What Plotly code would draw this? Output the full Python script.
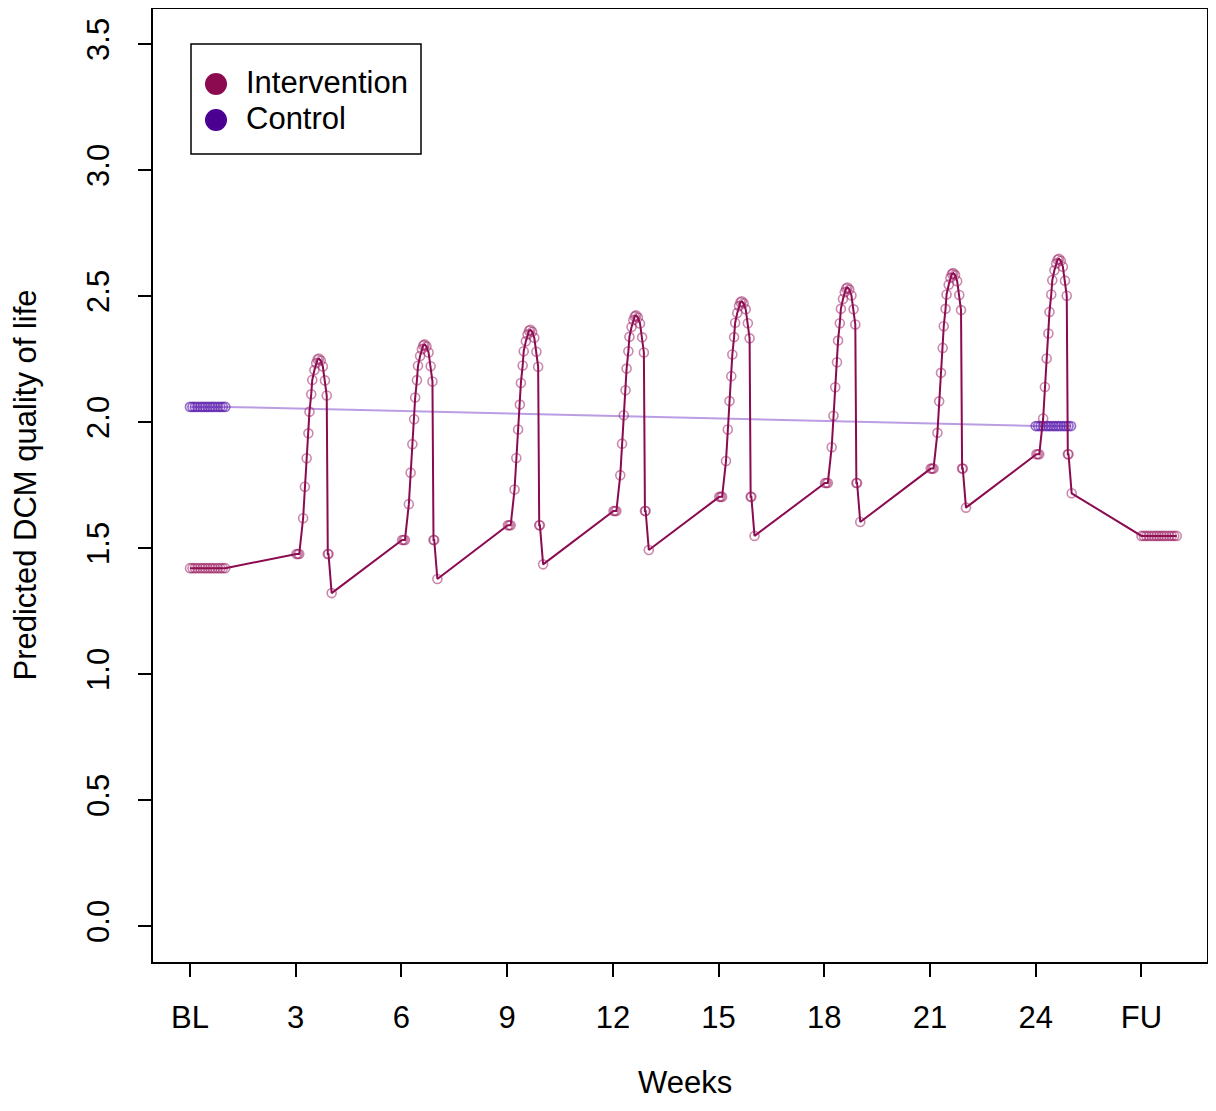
import plotly.graph_objects as go

# ---------------- data ----------------
tick_vals = [0, 3, 6, 9, 12, 15, 18, 21, 24, 27]
tick_text = ["BL", "3", "6", "9", "12", "15", "18", "21", "24", "FU"]

# baseline / end-of-treatment / follow-up week positions (dense points)
bl_x = [0.0, 0.07, 0.14, 0.21, 0.29, 0.36, 0.43, 0.5, 0.57, 0.64, 0.71, 0.79, 0.86, 0.93, 1.0]
end_x = [24.0, 24.07, 24.14, 24.21, 24.29, 24.36, 24.43, 24.5, 24.57, 24.64, 24.71, 24.79, 24.86, 24.93, 25.0]
fu_x = [27.0, 27.07, 27.14, 27.21, 27.29, 27.36, 27.43, 27.5, 27.57, 27.64, 27.71, 27.79, 27.86, 27.93, 28.0]

intervention_bl = 1.42
intervention_fu = 1.548
control_bl = 2.06
control_end = 1.984

# session weeks and within-session time offsets (weeks)
session_weeks = [3, 6, 9, 12, 15, 18, 21, 24]
session_offsets = [0.02, 0.06, 0.10, 0.21, 0.26, 0.31, 0.36, 0.39, 0.44, 0.47, 0.53,
                   0.58, 0.62, 0.66, 0.71, 0.77, 0.83, 0.88, 0.91, 0.93, 1.02]

cycle1 = [1.476, 1.476, 1.476, 1.618, 1.743, 1.856, 1.955, 2.041, 2.110, 2.167, 2.206,
          2.233, 2.248, 2.252, 2.244, 2.220, 2.165, 2.105, 1.476, 1.476, 1.321]
cycle2 = [1.532, 1.532, 1.532, 1.674, 1.799, 1.912, 2.011, 2.097, 2.166, 2.223, 2.262,
          2.289, 2.304, 2.308, 2.300, 2.276, 2.221, 2.161, 1.532, 1.532, 1.377]
cycle3 = [1.590, 1.590, 1.590, 1.732, 1.857, 1.970, 2.069, 2.155, 2.224, 2.281, 2.320,
          2.347, 2.362, 2.366, 2.358, 2.334, 2.279, 2.219, 1.590, 1.590, 1.435]
cycle4 = [1.647, 1.647, 1.647, 1.789, 1.914, 2.027, 2.126, 2.212, 2.281, 2.338, 2.377,
          2.404, 2.419, 2.423, 2.415, 2.391, 2.336, 2.276, 1.647, 1.647, 1.492]
cycle5 = [1.703, 1.703, 1.703, 1.845, 1.970, 2.083, 2.182, 2.268, 2.337, 2.394, 2.433,
          2.460, 2.475, 2.479, 2.471, 2.447, 2.392, 2.332, 1.703, 1.703, 1.548]
cycle6 = [1.758, 1.758, 1.758, 1.900, 2.025, 2.138, 2.237, 2.323, 2.392, 2.449, 2.488,
          2.515, 2.530, 2.534, 2.526, 2.502, 2.447, 2.387, 1.758, 1.758, 1.603]
cycle7 = [1.815, 1.815, 1.815, 1.957, 2.082, 2.195, 2.294, 2.380, 2.449, 2.506, 2.545,
          2.572, 2.587, 2.591, 2.583, 2.559, 2.504, 2.444, 1.815, 1.815, 1.660]
cycle8 = [1.872, 1.872, 1.872, 2.014, 2.139, 2.252, 2.351, 2.437, 2.506, 2.563, 2.602,
          2.629, 2.644, 2.648, 2.640, 2.616, 2.561, 2.501, 1.872, 1.872, 1.717]
cycles = [cycle1, cycle2, cycle3, cycle4, cycle5, cycle6, cycle7, cycle8]

# ---------------- build series ----------------
int_x = list(bl_x)
int_y = [intervention_bl] * len(bl_x)
for wk, cyc in zip(session_weeks, cycles):
    int_x += [wk + o for o in session_offsets]
    int_y += cyc
int_x += fu_x
int_y += [intervention_fu] * len(fu_x)

ctl_x = list(bl_x) + list(end_x)
ctl_y = [control_bl] * len(bl_x) + [control_end] * len(end_x)

INT = "#8B0A50"
CTL = "#4B0092"

fig = go.Figure()
fig.add_trace(go.Scatter(
    x=ctl_x, y=ctl_y, mode="lines", name="Control",
    line=dict(color="rgba(120,60,200,0.5)", width=2), showlegend=False))
fig.add_trace(go.Scatter(
    x=ctl_x, y=ctl_y, mode="markers", name="Control",
    marker=dict(symbol="circle-open", size=9, color="rgba(85,20,170,0.6)",
                line=dict(width=1.8)),
    showlegend=False))
fig.add_trace(go.Scatter(
    x=int_x, y=int_y, mode="lines", name="Intervention",
    line=dict(color=INT, width=2), showlegend=False))
fig.add_trace(go.Scatter(
    x=int_x, y=int_y, mode="markers", name="Intervention",
    marker=dict(symbol="circle-open", size=9, color="rgba(150,20,90,0.5)",
                line=dict(width=1.6)),
    showlegend=False))

# ---------------- layout ----------------
# the page body adds an 8px margin on every side; keep the figure inside the viewport
OFF = 8
W, H = 1216 - 2 * OFF, 1111 - 2 * OFF
L, T = 153 - OFF, 9 - OFF
R = 1
B = H - (962 - OFF)
pw, ph = W - L - R, H - T - B

def px(x):
    return (x - OFF - L) / pw

def py(y):
    return (H - B - (y - OFF)) / ph

FONT = "Liberation Sans, Arial, Helvetica, sans-serif"
FS = 31

fig.update_layout(
    width=W, height=H,
    margin=dict(l=L, r=R, t=T, b=B, autoexpand=False),
    paper_bgcolor="white", plot_bgcolor="white",
    font=dict(family=FONT, size=FS, color="black"),
    xaxis=dict(range=[-1.05, 28.86], tickvals=tick_vals, ticktext=tick_text,
               ticks="outside", ticklen=13, tickwidth=1.5, tickcolor="black",
               showline=True, linecolor="black", linewidth=1.5, mirror=True,
               showgrid=False, zeroline=False, ticklabelstandoff=14,
               tickfont=dict(size=FS)),
    yaxis=dict(range=[-0.143, 3.639], tickvals=[0, 0.5, 1, 1.5, 2, 2.5, 3, 3.5],
               ticktext=["0.0", "0.5", "1.0", "1.5", "2.0", "2.5", "3.0", "3.5"],
               tickangle=-90,
               ticks="outside", ticklen=13, tickwidth=1.5, tickcolor="black",
               showline=True, linecolor="black", linewidth=1.5, mirror=True,
               showgrid=False, zeroline=False, ticklabelstandoff=17,
               tickfont=dict(size=FS)),
    showlegend=False,
)

shapes = [
    dict(type="rect", xref="paper", yref="paper",
         x0=px(191), x1=px(421), y0=py(154), y1=py(44),
         line=dict(color="black", width=1.5), fillcolor="white", layer="above"),
    dict(type="circle", xref="paper", yref="paper", xsizemode="pixel", ysizemode="pixel",
         xanchor=px(216), yanchor=py(84), x0=-11, x1=11, y0=-11, y1=11,
         fillcolor=INT, line=dict(color=INT, width=0), layer="above"),
    dict(type="circle", xref="paper", yref="paper", xsizemode="pixel", ysizemode="pixel",
         xanchor=px(216), yanchor=py(120), x0=-11, x1=11, y0=-11, y1=11,
         fillcolor=CTL, line=dict(color=CTL, width=0), layer="above"),
]
fig.update_layout(shapes=shapes)

annotations = [
    dict(text="Intervention", xref="paper", yref="paper", x=px(244), y=py(83),
         xanchor="left", yanchor="middle", showarrow=False, font=dict(size=FS)),
    dict(text="Control", xref="paper", yref="paper", x=px(244), y=py(119),
         xanchor="left", yanchor="middle", showarrow=False, font=dict(size=FS)),
    dict(text="Weeks", xref="paper", yref="paper", x=px(685), y=py(1082),
         xanchor="center", yanchor="middle", showarrow=False, font=dict(size=FS)),
    dict(text="Predicted DCM quality of life", xref="paper", yref="paper",
         x=px(25), y=0.5, xanchor="center", yanchor="middle", textangle=-90,
         showarrow=False, font=dict(size=FS)),
]
fig.update_layout(annotations=annotations)

fig.write_html("out.html")
